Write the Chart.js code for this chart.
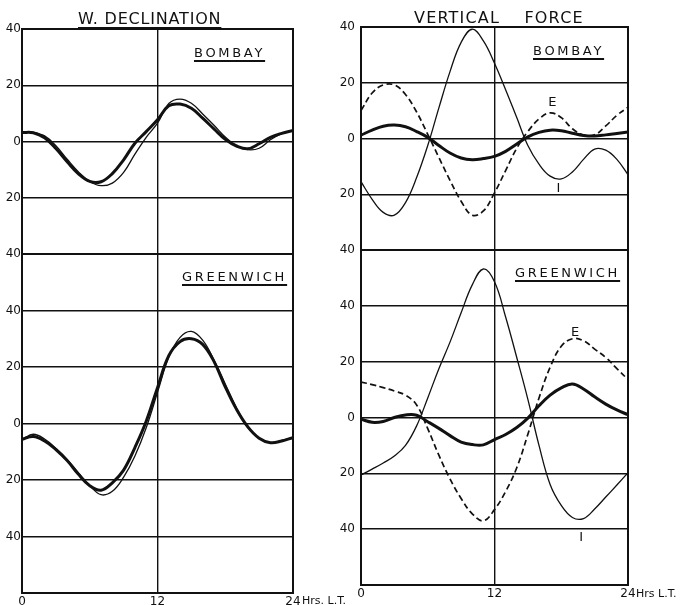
<!DOCTYPE html>
<html>
<head>
<meta charset="utf-8">
<script src="https://cdn.jsdelivr.net/npm/chart.js@4.4.1/dist/chart.umd.min.js"></script>
<style>
  html, body { margin: 0; padding: 0; background: #fff; width: 684px; height: 605px; overflow: hidden; }
  #wrap { position: relative; width: 684px; height: 605px; font-family: "DejaVu Sans", sans-serif; color: #111; }
  canvas { position: absolute; }
  .title { position: absolute; font-size: 16px; line-height: 16px; white-space: nowrap;
           text-decoration: underline; text-decoration-thickness: 2px; text-underline-offset: 3px; }
  .station { position: absolute; font-size: 13px; line-height: 13px; white-space: nowrap; letter-spacing: 2.7px;
             text-decoration: underline; text-decoration-thickness: 1.5px; text-underline-offset: 3px; }
  .unit { position: absolute; font-size: 11px; line-height: 11px; white-space: nowrap; }
</style>
</head>
<body>
<div id="wrap">
  <canvas id="cLB" width="303" height="253" style="left:0px;top:15px"></canvas>
  <canvas id="cLG" width="303" height="367" style="left:0px;top:240px"></canvas>
  <canvas id="cRB" width="299" height="251" style="left:339px;top:13px"></canvas>
  <canvas id="cRG" width="299" height="363" style="left:339px;top:236px"></canvas>

  <div class="title" style="left:78px;top:11px;letter-spacing:0.8px">W. DECLINATION</div>
  <div class="title" style="left:414px;top:10px;letter-spacing:1.2px;word-spacing:18px">VERTICAL FORCE</div>
  <div class="station" style="left:194px;top:46px">BOMBAY</div>
  <div class="station" style="left:182px;top:270px">GREENWICH</div>
  <div class="station" style="left:533px;top:44px">BOMBAY</div>
  <div class="station" style="left:515px;top:266px">GREENWICH</div>
  <div class="unit" style="left:302px;top:595px">Hrs. L.T.</div>
  <div class="unit" style="left:636px;top:588px">Hrs L.T.</div>
</div>

<script>
// ---------- data (hours of local time) ----------
const hours = [0,1,2,3,4,5,6,7,8,9,10,11,12,13,14,15,16,17,18,19,20,21,22,23,24];
const xTicks = [0, 12, 24];

// W. Declination – Bombay
const declBombayThick = [3.2,3.1,1.3,-2.5,-7.2,-11.5,-14.2,-14.3,-11.4,-6.5,-0.6,3.5,7.7,12.7,13.3,11.8,8.3,4.5,0.8,-1.6,-2.6,-0.8,1.5,2.9,3.9];
const declBombayThin  = [3.2,3.2,2.0,-1.5,-6.3,-10.8,-14.2,-15.7,-14.8,-11.0,-4.5,1.5,6.5,13.5,15.1,13.6,9.8,5.8,1.6,-1.6,-2.9,-2.4,0.6,2.8,3.9];
// W. Declination – Greenwich
const declGreenwichThick = [-5.6,-4.6,-6.2,-9.2,-13.1,-18.0,-22.0,-23.6,-21.0,-16.5,-8.5,0.8,12.7,24.0,29.0,30.0,28.0,22.0,13.0,5.0,-1.2,-5.2,-6.8,-6.2,-5.0];
const declGreenwichThin  = [-5.6,-3.8,-5.5,-8.8,-12.8,-17.5,-22.0,-25.2,-24.0,-19.0,-11.5,-1.5,11.0,23.5,30.5,32.6,29.5,22.5,14.0,5.5,-1.5,-5.3,-6.8,-6.0,-5.0];

// Vertical force – Bombay
const vfBombayTotal = [1.2,3.0,4.4,4.8,4.2,2.5,0.4,-2.5,-5.2,-7.0,-7.6,-7.2,-6.4,-4.6,-2.0,0.6,2.2,3.0,2.8,1.9,1.1,0.9,1.3,1.8,2.3];
const vfBombayE     = [10.0,16.3,19.2,19.2,15.8,9.5,1.5,-6.8,-15.0,-22.5,-27.5,-26.0,-19.5,-11.5,-3.5,2.5,7.0,9.2,7.5,3.5,1.2,1.3,4.5,8.3,11.2];
const vfBombayI     = [-15.5,-21.8,-26.5,-27.5,-23.0,-14.0,-2.5,11.0,24.0,34.5,39.2,35.0,27.0,17.5,7.5,-2.5,-9.2,-13.5,-14.5,-12.0,-7.5,-3.8,-4.2,-7.5,-13.0];
// Vertical force – Greenwich
const vfGreenwichTotal = [-0.6,-1.7,-1.4,0.0,0.9,0.8,-1.5,-3.9,-6.5,-8.8,-9.7,-9.8,-7.9,-6.1,-3.6,-0.2,4.2,8.0,10.6,12.0,10.2,7.4,4.8,2.7,1.0];
const vfGreenwichE     = [12.7,11.8,10.7,9.5,8.0,4.5,-4.0,-13.5,-22.0,-29.0,-34.5,-37.0,-33.0,-26.5,-18.0,-6.0,7.0,18.0,25.5,28.2,27.5,24.5,21.5,17.5,13.6];
const vfGreenwichI     = [-20.6,-18.5,-16.3,-13.8,-10.0,-3.0,7.0,17.5,27.0,37.5,47.5,53.2,48.6,36.0,21.5,6.5,-10.0,-24.0,-31.5,-35.8,-36.2,-32.8,-28.5,-24.2,-19.8];

// ---------- styling ----------
const INK = '#111';
const FONT = "'DejaVu Sans', sans-serif";

function pts(values) { return hours.map((h, i) => ({ x: h, y: values[i] })); }
function thick(values) { return { data: pts(values), borderColor: INK, borderWidth: 3, pointRadius: 0, tension: 0.4, fill: false }; }
function thin(values) { return { data: pts(values), borderColor: INK, borderWidth: 1.3, pointRadius: 0, tension: 0.4, fill: false }; }
function dashed(values) { return { data: pts(values), borderColor: INK, borderWidth: 1.7, borderDash: [6, 3.5], pointRadius: 0, tension: 0.4, fill: false }; }

const framePlugin = {
  id: 'frame',
  afterDatasetsDraw(chart) {
    const { ctx, chartArea: a } = chart;
    ctx.save();
    ctx.strokeStyle = INK;
    ctx.lineWidth = 2;
    ctx.strokeRect(a.left, a.top, a.right - a.left, a.bottom - a.top);
    ctx.restore();
  }
};

const curveLabelPlugin = {
  id: 'curveLabels',
  afterDraw(chart, args, opts) {
    const items = (opts && opts.items) || [];
    const { ctx } = chart;
    ctx.save();
    ctx.fillStyle = INK;
    ctx.font = '13px ' + FONT;
    ctx.textAlign = 'center';
    ctx.textBaseline = 'middle';
    for (const it of items) {
      ctx.fillText(it.text, chart.scales.x.getPixelForValue(it.x), chart.scales.y.getPixelForValue(it.y));
    }
    ctx.restore();
  }
};

function makeChart(id, datasets, yMin, yMax, showX, tickPad, padBottom, labels) {
  new Chart(document.getElementById(id), {
    type: 'line',
    data: { datasets },
    plugins: [framePlugin, curveLabelPlugin],
    options: {
      responsive: false,
      animation: false,
      events: [],
      layout: { padding: { top: 14, bottom: padBottom, left: 0, right: 10 } },
      plugins: {
        legend: { display: false },
        tooltip: { enabled: false },
        curveLabels: { items: labels || [] }
      },
      scales: {
        x: {
          type: 'linear', min: 0, max: 24,
          afterBuildTicks: (s) => { s.ticks = xTicks.map(v => ({ value: v })); },
          afterFit: (s) => { s.height = showX ? 14 : 0; },
          grid: { color: INK, lineWidth: 1.4, drawTicks: false },
          border: { display: false },
          ticks: { display: showX, padding: 2, maxRotation: 0, autoSkip: false,
                   color: INK, font: { family: FONT, size: 12 } }
        },
        y: {
          type: 'linear', min: yMin, max: yMax,
          afterFit: (s) => { s.width = 22; },
          grid: { color: INK, lineWidth: 1.4, drawTicks: false },
          border: { display: false },
          ticks: {
            stepSize: 20, padding: tickPad, color: INK, font: { family: FONT, size: 12 },
            callback: (v) => (Math.abs(v) > 40 ? '' : String(Math.abs(v)))
          }
        }
      }
    }
  });
}

makeChart('cLB', [thick(declBombayThick), thin(declBombayThin)], -40, 40, false, 1, 14);
makeChart('cLG', [thick(declGreenwichThick), thin(declGreenwichThin)], -60, 60, true, 1, 0);
makeChart('cRB', [thick(vfBombayTotal), dashed(vfBombayE), thin(vfBombayI)], -40, 40, false, 6, 14,
  [{ text: 'E', x: 17.2, y: 12.7 }, { text: 'I', x: 17.75, y: -18.1 }]);
makeChart('cRG', [thick(vfGreenwichTotal), dashed(vfGreenwichE), thin(vfGreenwichI)], -60, 60, true, 6, 0,
  [{ text: 'E', x: 19.25, y: 30.5 }, { text: 'I', x: 19.8, y: -43 }]);
</script>
</body>
</html>
